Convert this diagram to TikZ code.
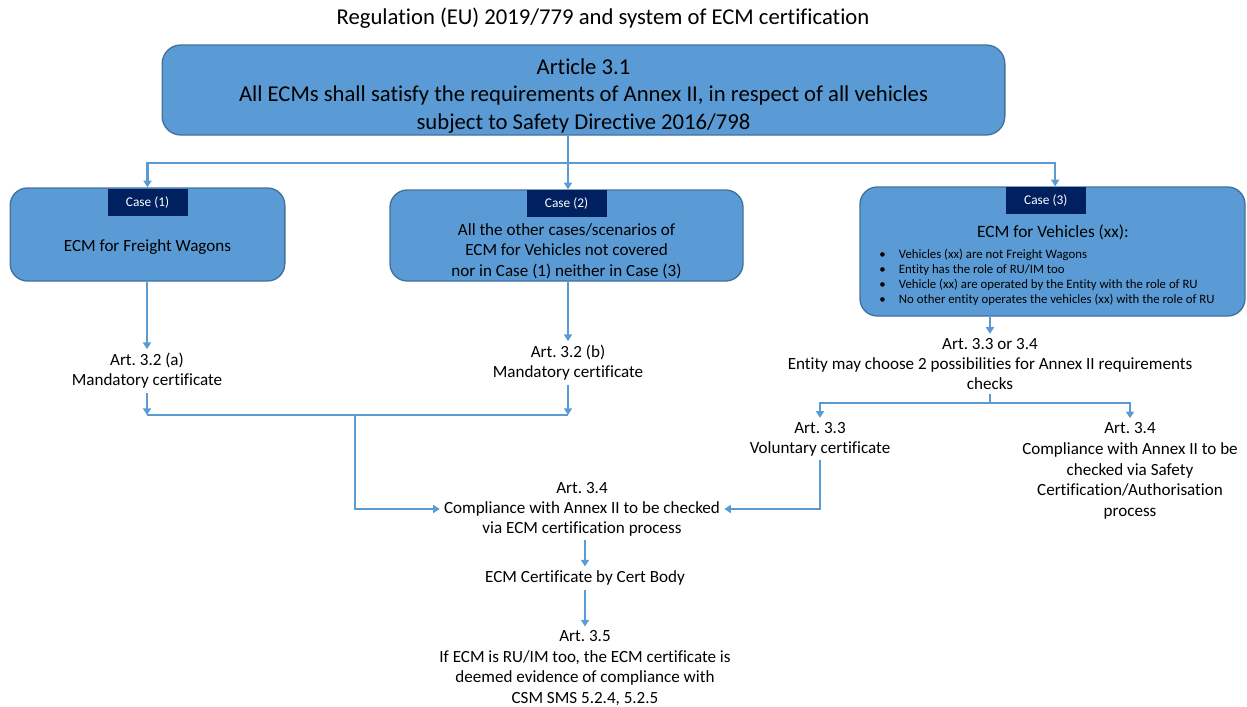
\documentclass[tikz,border=0pt]{standalone}
\usepackage{fontspec}
\setmainfont{Carlito}[Ligatures=NoCommon]
\frenchspacing
\usetikzlibrary{arrows.meta}
\definecolor{boxblue}{HTML}{5B9BD5}
\definecolor{boxline}{HTML}{41719C}
\definecolor{tabnavy}{HTML}{002060}
\tikzset{
  box/.style={rectangle, rounded corners=13pt, fill=boxblue, draw=boxline, line width=1pt},
  casetab/.style={rectangle, fill=tabnavy, text=white, minimum width=60pt, minimum height=20pt, inner sep=0pt, font=\fontsize{10}{12}\selectfont},
  txt/.style={align=center, inner sep=3pt, font=\fontsize{12.8}{15}\selectfont},
  link/.style={draw=boxblue, line width=1.7pt},
  arrow/.style={link, -{Triangle[width=6pt,length=5pt]}},
}
\begin{document}
\begin{tikzpicture}[x=0.75pt,y=-0.75pt]
\useasboundingbox (0,0) rectangle (1247,707);
\node[txt, font=\fontsize{17}{20}\selectfont] (title) at (603,18){Regulation (EU) 2019/779 and system of ECM certification};
% top box
\node[box, minimum width=632pt, minimum height=67.5pt, rounded corners=14pt] (main) at (583.5,90){};
\node[txt, font=\fontsize{17}{20.6}\selectfont] (maintxt) at (583.5,96){Article 3.1\\All ECMs shall satisfy the requirements of Annex II, in respect of all vehicles\\subject to Safety Directive 2016/798};
% the three cases
\node[box, minimum width=206pt, minimum height=69.75pt] (box1) at (147.5,234.5){};
\node[casetab, anchor=north] (tab1) at ([yshift=-1pt]box1.north){Case (1)};
\node[txt] (b1txt) at (147.5,247){ECM for Freight Wagons};
\node[box, minimum width=264.75pt, minimum height=68.25pt] (box2) at (566.5,235.5){};
\node[casetab, anchor=north] (tab2) at ([yshift=-0.5pt]box2.north){Case (2)};
\node[txt, font=\fontsize{12.8}{15.4}\selectfont] (b2txt) at (566.5,251){All the other cases/scenarios of\\ECM for Vehicles not covered\\nor in Case (1) neither in Case (3)};
\node[box, minimum width=288.75pt, minimum height=96.75pt] (box3) at (1052.5,251.5){};
\node[casetab, anchor=north] (tab3) at ([xshift=-5pt,yshift=-0.5pt]box3.north){Case (3)};
\node[txt, font=\fontsize{13}{15}\selectfont] (b3head) at (1053,232){ECM for Vehicles (xx):};
\node[align=left, anchor=west, inner sep=0pt, font=\fontsize{9.6}{11.25}\selectfont] (b3list) at (879,277){%
\textbullet\hspace{10pt}Vehicles (xx) are not Freight Wagons\\
\textbullet\hspace{10pt}Entity has the role of RU/IM too\\
\textbullet\hspace{10pt}Vehicle (xx) are operated by the Entity with the role of RU\\
\textbullet\hspace{10pt}No other entity operates the vehicles (xx) with the role of RU};
% articles
\node[txt] (art32a) at (147,371){Art. 3.2 (a)\\Mandatory certificate};
\node[txt] (art32b) at (568,363){Art. 3.2 (b)\\Mandatory certificate};
\node[txt, font=\fontsize{12.8}{15.2}\selectfont] (art3334) at (990,364){Art. 3.3 or 3.4\\Entity may choose 2 possibilities for Annex II requirements\\checks};
\node[txt] (art33) at (820,439){Art. 3.3\\Voluntary certificate};
\node[txt, font=\fontsize{12.8}{15.6}\selectfont] (art34r) at (1130,471){Art. 3.4\\Compliance with Annex II to be\\checked via Safety\\Certification/Authorisation\\process};
\node[txt] (art34c) at (582,509){Art. 3.4\\Compliance with Annex II to be checked\\via ECM certification process};
\node[txt] (certbody) at (585,578){ECM Certificate by Cert Body};
\node[txt, font=\fontsize{12.8}{15.3}\selectfont] (art35) at (585,668){Art. 3.5\\If ECM is RU/IM too, the ECM certificate is\\deemed evidence of compliance with\\CSM SMS 5.2.4, 5.2.5};
% junctions
\coordinate (split) at (568,163);
\coordinate (join1) at (147,415);
\coordinate (join2) at (568,415);
\coordinate (drop) at (355,415);
\coordinate (split2) at (990,403);
% connectors
\draw[link] (main.south -| split) -- (split);
\draw[arrow] (split) -- (box2.north -| split);
\draw[arrow] (split) -| (box1.north);
\draw[arrow] (split) -| ([xshift=2pt]box3.north);
\draw[arrow] (box1.south -| art32a.north) -- (art32a.north);
\draw[arrow] (box2.south -| art32b.north) -- (art32b.north);
\draw[arrow] (box3.south -| art3334.north) -- (art3334.north);
\draw[arrow] (art32a.south) -- (join1);
\draw[arrow] (art32b.south) -- (join2);
\draw[link] (join1) -- (join2);
\draw[arrow] (drop) |- (art34c.west);
\draw[link] (art3334.south) -- (split2);
\draw[arrow] (split2) -| (art33.north);
\draw[arrow] (split2) -| (art34r.north);
\draw[arrow] (art33.south) |- (art34c.east);
\draw[arrow] (art34c.south -| certbody.north) -- (certbody.north);
\draw[arrow] (certbody.south) -- (art35.north);
\end{tikzpicture}
\end{document}
